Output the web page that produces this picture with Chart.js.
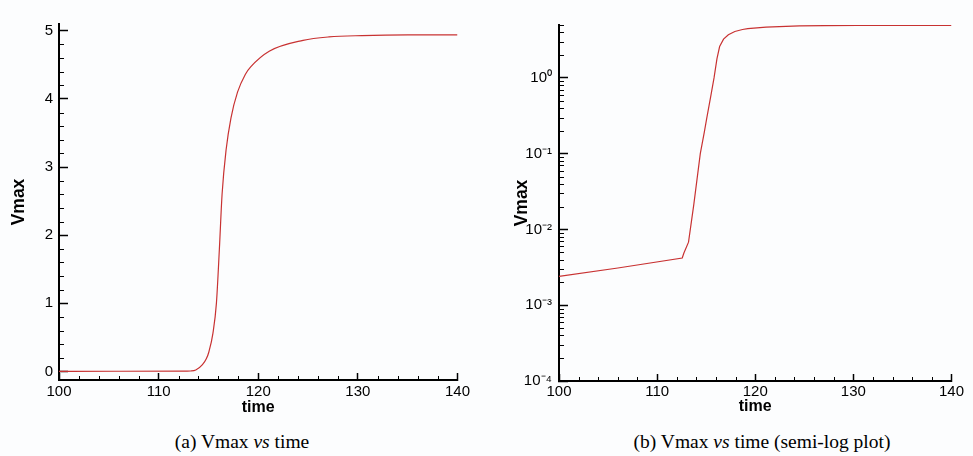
<!DOCTYPE html>
<html>
<head>
<meta charset="utf-8">
<script src="https://cdn.jsdelivr.net/npm/chart.js@4.4.0/dist/chart.umd.min.js"></script>
<style>
  body { margin: 0; background: #fcfdfe; }
  #wrap { position: relative; width: 973px; height: 456px; overflow: hidden; }
  canvas { position: absolute; top: 0; }
  .cap { position: absolute; top: 431px; font: 19.5px "Liberation Serif", "Times New Roman", serif; color: #000; text-align: center; white-space: nowrap; }
</style>
</head>
<body>
<div id="wrap">
  <canvas id="linChart" width="480" height="425" style="left:0px"></canvas>
  <canvas id="logChart" width="483" height="425" style="left:490px"></canvas>
  <div class="cap" style="left:92px;width:300px">(a) Vmax <i>vs</i> time</div>
  <div class="cap" style="left:612px;width:300px">(b) Vmax <i>vs</i> time (semi-log plot)</div>
</div>
<script>
// Vmax history
var timeVals = [100, 106, 112.56, 112.73, 113.2, 113.73, 114.4, 114.8, 115.05, 115.45, 115.8, 116.1, 116.37, 116.77, 117.26, 117.92, 118.7, 119.24, 121.1, 124.5, 127.1, 130.4, 135, 140];
var vmaxVals = [0.0024, 0.0031, 0.0042, 0.0049, 0.0068, 0.021, 0.1, 0.19, 0.29, 0.56, 1.0, 1.8, 2.6, 3.25, 3.72, 4.1, 4.36, 4.47, 4.7, 4.86, 4.91, 4.93, 4.94, 4.94];

var timeTicks = [100, 110, 120, 130, 140];
var linTicks = [0, 1, 2, 3, 4, 5];
var logTicks = [1e-4, 1e-3, 1e-2, 1e-1, 1];
var logLabels = ['10\u207B\u2074', '10\u207B\u00B3', '10\u207B\u00B2', '10\u207B\u00B9', '10\u2070'];

var points = [];
for (var i = 0; i < timeVals.length; i++) {
  points.push({x: timeVals[i], y: vmaxVals[i]});
}

// small ticks between the labelled ones, pointing into the plot
var minorTicks = {
  id: 'minorTicks',
  afterDraw: function (chart, args, opts) {
    var ctx = chart.ctx;
    ctx.save();
    ctx.strokeStyle = '#000';
    ctx.lineWidth = 1;
    Object.keys(opts.scales || {}).forEach(function (id) {
      var sc = chart.scales[id];
      var cfg = opts.scales[id];
      var vals = [];
      if (sc.type === 'logarithmic') {
        var d0 = Math.floor(Math.log10(sc.min));
        var d1 = Math.ceil(Math.log10(sc.max));
        for (var d = d0; d <= d1; d++) {
          for (var m = 2; m <= 9; m++) {
            var v = m * Math.pow(10, d);
            if (v > sc.min && v <= sc.max) vals.push(v);
          }
        }
      } else {
        var n0 = Math.ceil(sc.min / cfg.step);
        var n1 = Math.floor(sc.max / cfg.step);
        for (var n = n0; n <= n1; n++) {
          if (n % cfg.every !== 0) vals.push(n * cfg.step);
        }
      }
      vals.forEach(function (v) {
        var p = Math.round(sc.getPixelForValue(v)) + 0.5;
        ctx.beginPath();
        if (sc.isHorizontal()) {
          ctx.moveTo(p, sc.top);
          ctx.lineTo(p, sc.top - cfg.len);
        } else {
          ctx.moveTo(sc.right, p);
          ctx.lineTo(sc.right + cfg.len, p);
        }
        ctx.stroke();
      });
    });
    ctx.restore();
  }
};

function fixedTicks(list) {
  return function (scale) {
    scale.ticks = list.map(function (v) { return {value: v}; });
  };
}

var tickFont = {family: 'Liberation Sans, Arial', size: 15};

function makeChart(id, opt) {
  var ctx = document.getElementById(id).getContext('2d');
  return new Chart(ctx, {
    type: 'line',
    data: {
      datasets: [{
        data: points,
        borderColor: '#c83232',
        borderWidth: 1.2,
        pointRadius: 0,
        fill: false,
        tension: 0,
        cubicInterpolationMode: opt.interp
      }]
    },
    options: {
      responsive: false,
      animation: false,
      layout: {padding: {left: 0, top: opt.top, right: opt.right, bottom: 0}},
      plugins: {
        legend: {display: false},
        tooltip: {enabled: false},
        minorTicks: opt.minor
      },
      scales: {
        x: {
          type: 'linear',
          min: 100,
          max: 140,
          afterBuildTicks: fixedTicks(timeTicks),
          afterFit: function (s) { s.height = opt.xHeight; },
          border: {display: true, color: '#000', width: 2},
          grid: {drawOnChartArea: false, drawTicks: true, tickLength: -7, tickColor: '#000', tickWidth: 1.5},
          ticks: {autoSkip: false, maxRotation: 0, padding: opt.xPad, color: '#000', font: tickFont},
          title: {display: true, text: 'time', color: '#000',
                  font: {family: 'Liberation Sans, Arial', size: 16, weight: 'bold'},
                  padding: {top: 0, bottom: opt.xTitlePad}}
        },
        y: opt.y
      }
    },
    plugins: [minorTicks]
  });
}

var linChart = makeChart('linChart', {
  top: 13, right: 16, xHeight: 45, xPad: 10, xTitlePad: 8, interp: 'monotone',
  minor: {scales: {x: {step: 2, every: 5, len: 4}, y: {step: 0.2, every: 5, len: 5}}},
  y: {
    type: 'linear',
    min: -0.125,
    max: 5.1,
    afterBuildTicks: fixedTicks(linTicks),
    afterFit: function (s) { s.width = 59; },
    border: {display: true, color: '#000', width: 2},
    grid: {drawOnChartArea: false, drawTicks: true, tickLength: -9, tickColor: '#000', tickWidth: 1.5},
    ticks: {autoSkip: false, padding: 15, color: '#000', font: tickFont},
    title: {display: true, text: 'Vmax', color: '#000',
            font: {family: 'Liberation Sans, Arial', size: 17.5, weight: 'bold'},
            padding: {top: 9, bottom: 0}}
  }
});

var logChart = makeChart('logChart', {
  top: 12, right: 13, xHeight: 44, xPad: 9, xTitlePad: 9, interp: 'default',
  minor: {scales: {x: {step: 2, every: 5, len: 4}, y: {len: 5}}},
  y: {
    type: 'logarithmic',
    min: 1e-4,
    max: 5,
    afterBuildTicks: fixedTicks(logTicks),
    afterFit: function (s) { s.width = 69; },
    border: {display: true, color: '#000', width: 2},
    grid: {drawOnChartArea: false, drawTicks: true, tickLength: -9, tickColor: '#000', tickWidth: 1.5},
    ticks: {autoSkip: false, padding: 16, color: '#000', font: tickFont,
            callback: function (v) {
              var k = logTicks.indexOf(v);
              return k >= 0 ? logLabels[k] : '';
            }},
    title: {display: true, text: 'Vmax', color: '#000',
            font: {family: 'Liberation Sans, Arial', size: 17.5, weight: 'bold'},
            padding: {top: 22, bottom: 0}}
  }
});
</script>
</body>
</html>
